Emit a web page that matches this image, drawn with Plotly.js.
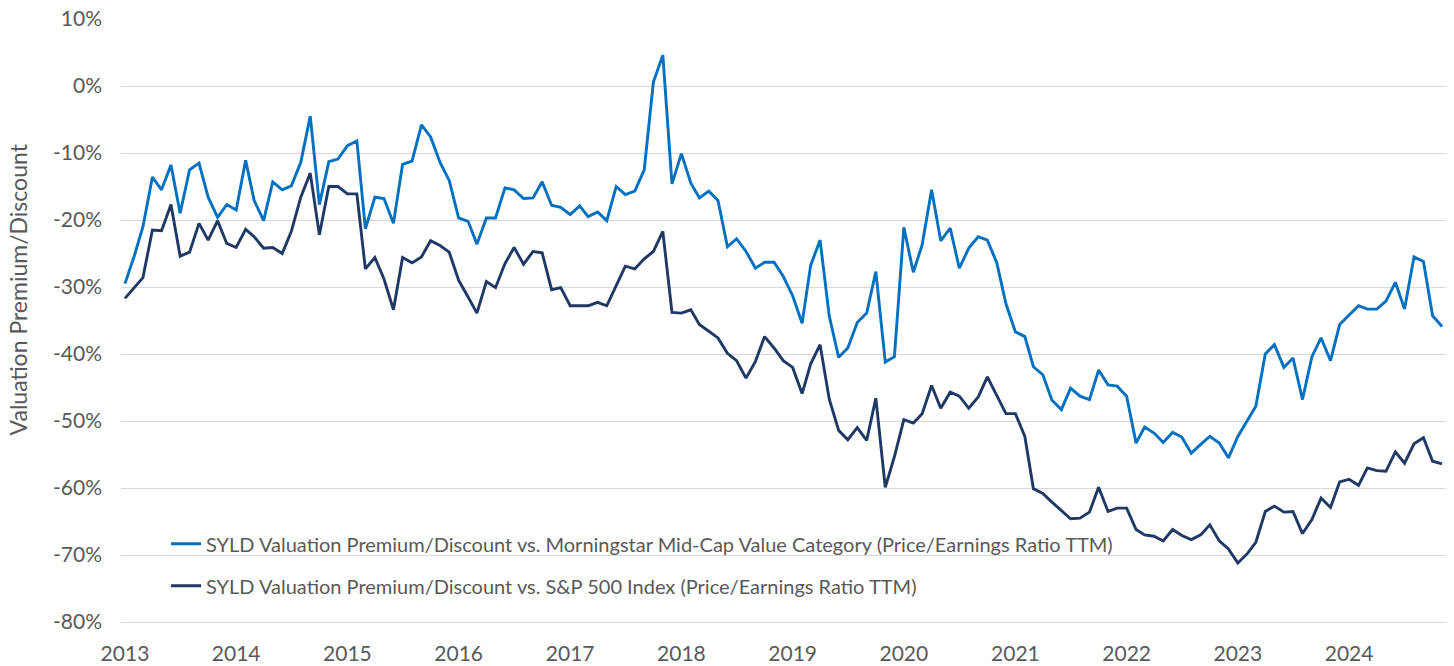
<!DOCTYPE html>
<html>
<head>
<meta charset="utf-8">
<script src="https://cdn.plot.ly/plotly-3.0.1.min.js"></script>
<style>
  html, body { margin: 0; padding: 0; background: #fff; }
  #chart { width: 1454px; height: 666px; }
</style>
</head>
<body>
<div id="chart"></div>
<script>
const months = [
  '2013-01','2013-02','2013-03','2013-04','2013-05','2013-06','2013-07','2013-08','2013-09','2013-10','2013-11','2013-12',
  '2014-01','2014-02','2014-03','2014-04','2014-05','2014-06','2014-07','2014-08','2014-09','2014-10','2014-11','2014-12',
  '2015-01','2015-02','2015-03','2015-04','2015-05','2015-06','2015-07','2015-08','2015-09','2015-10','2015-11','2015-12',
  '2016-01','2016-02','2016-03','2016-04','2016-05','2016-06','2016-07','2016-08','2016-09','2016-10','2016-11','2016-12',
  '2017-01','2017-02','2017-03','2017-04','2017-05','2017-06','2017-07','2017-08','2017-09','2017-10','2017-11','2017-12',
  '2018-01','2018-02','2018-03','2018-04','2018-05','2018-06','2018-07','2018-08','2018-09','2018-10','2018-11','2018-12',
  '2019-01','2019-02','2019-03','2019-04','2019-05','2019-06','2019-07','2019-08','2019-09','2019-10','2019-11','2019-12',
  '2020-01','2020-02','2020-03','2020-04','2020-05','2020-06','2020-07','2020-08','2020-09','2020-10','2020-11','2020-12',
  '2021-01','2021-02','2021-03','2021-04','2021-05','2021-06','2021-07','2021-08','2021-09','2021-10','2021-11','2021-12',
  '2022-01','2022-02','2022-03','2022-04','2022-05','2022-06','2022-07','2022-08','2022-09','2022-10','2022-11','2022-12',
  '2023-01','2023-02','2023-03','2023-04','2023-05','2023-06','2023-07','2023-08','2023-09','2023-10','2023-11','2023-12',
  '2024-01','2024-02','2024-03','2024-04','2024-05','2024-06','2024-07','2024-08','2024-09','2024-10','2024-11'
];

// SYLD valuation premium/discount vs. Morningstar Mid-Cap Value Category (P/E TTM), %
const vsMidCapValue = [
  -29.5,-25.3,-21.0,-13.6,-15.5,-11.8,-19.0,-12.5,-11.5,-16.6,-19.6,-17.7,
  -18.5,-11.1,-17.1,-20.1,-14.3,-15.5,-14.9,-11.4,-4.5,-17.7,-11.3,-10.9,
  -8.9,-8.2,-21.3,-16.6,-16.8,-20.5,-11.7,-11.2,-5.8,-7.6,-11.4,-14.1,
  -19.7,-20.2,-23.6,-19.7,-19.7,-15.2,-15.5,-16.8,-16.7,-14.3,-17.8,-18.1,
  -19.2,-17.9,-19.5,-18.8,-20.1,-15.0,-16.2,-15.7,-12.5,0.6,4.6,-14.6,
  -10.1,-14.5,-16.7,-15.7,-17.1,-24.0,-22.8,-24.7,-27.2,-26.3,-26.3,-28.4,
  -31.3,-35.4,-26.8,-23.0,-34.3,-40.5,-39.1,-35.3,-33.9,-27.7,-41.2,-40.4,
  -21.1,-27.8,-23.7,-15.5,-23.1,-21.2,-27.2,-24.2,-22.5,-23.0,-26.4,-32.5,
  -36.7,-37.4,-41.9,-43.1,-46.9,-48.3,-45.1,-46.3,-46.8,-42.4,-44.6,-44.8,
  -46.3,-53.3,-50.9,-51.8,-53.2,-51.7,-52.4,-54.8,-53.5,-52.3,-53.3,-55.5,
  -52.3,-49.9,-47.8,-40.0,-38.6,-42.0,-40.6,-46.8,-40.4,-37.6,-41.0,-35.6,
  -34.2,-32.8,-33.3,-33.3,-32.1,-29.3,-33.3,-25.5,-26.2,-34.3,-35.9
];

// SYLD valuation premium/discount vs. S&P 500 Index (P/E TTM), %
const vsSP500 = [
  -31.7,-30.1,-28.6,-21.5,-21.6,-17.7,-25.4,-24.8,-20.5,-23.0,-20.1,-23.5,
  -24.1,-21.4,-22.5,-24.2,-24.1,-25.0,-21.7,-16.6,-13.0,-22.2,-15.0,-15.0,
  -16.1,-16.1,-27.3,-25.6,-28.8,-33.4,-25.6,-26.4,-25.5,-23.1,-23.8,-24.8,
  -29.0,-31.5,-33.9,-29.2,-30.1,-26.5,-24.1,-26.6,-24.7,-24.9,-30.4,-30.1,
  -32.8,-32.8,-32.8,-32.3,-32.8,-29.8,-26.9,-27.3,-25.8,-24.7,-21.7,-33.8,
  -33.9,-33.4,-35.6,-36.6,-37.6,-39.9,-41.0,-43.6,-41.1,-37.4,-39.1,-41.0,
  -42.0,-45.9,-41.5,-38.6,-46.7,-51.4,-52.8,-51.0,-52.9,-46.6,-59.9,-55.3,
  -49.8,-50.3,-48.9,-44.7,-48.1,-45.7,-46.3,-48.1,-46.4,-43.4,-46.2,-48.9,
  -48.9,-52.3,-60.1,-60.8,-62.1,-63.4,-64.6,-64.5,-63.6,-59.9,-63.5,-63.0,
  -63.0,-66.2,-67.0,-67.2,-67.9,-66.2,-67.1,-67.7,-67.0,-65.5,-67.9,-69.1,
  -71.2,-69.8,-68.1,-63.5,-62.7,-63.6,-63.5,-66.8,-64.7,-61.5,-62.9,-59.1,
  -58.7,-59.6,-57.0,-57.4,-57.5,-54.6,-56.3,-53.4,-52.5,-56.0,-56.4
];

const seriesNames = [
  'SYLD Valuation Premium/Discount vs. Morningstar Mid-Cap Value Category (Price/Earnings Ratio TTM)',
  'SYLD Valuation Premium/Discount vs. S&P 500 Index (Price/Earnings Ratio TTM)'
];

const yearTickVals = ['2013-01-01','2014-01-01','2015-01-01','2016-01-01','2017-01-01','2018-01-01',
                      '2019-01-01','2020-01-01','2021-01-01','2022-01-01','2023-01-01','2024-01-01'];
const yearTickText = ['2013','2014','2015','2016','2017','2018','2019','2020','2021','2022','2023','2024'];

const pctTickVals = [10, 0, -10, -20, -30, -40, -50, -60, -70, -80];
const pctTickText = ['10%','0%','-10%','-20%','-30%','-40%','-50%','-60%','-70%','-80%'];

const yTitle = 'Valuation Premium/Discount';

const FONT = 'Lato, "Open Sans", "Liberation Sans", sans-serif';
const TXT = '#595959';

const traces = [
  {
    x: months, y: vsMidCapValue, name: seriesNames[0], type: 'scatter', mode: 'lines',
    line: { color: '#0070C0', width: 2.9 }, legendgroup: 'a', hoverinfo: 'skip'
  },
  {
    x: months, y: vsSP500, name: seriesNames[1], type: 'scatter', mode: 'lines',
    line: { color: '#1F3864', width: 2.9 }, legendgroup: 'b', hoverinfo: 'skip'
  }
];

const layout = {
  width: 1454, height: 666,
  margin: { l: 121, r: 8, t: 19, b: 44 },
  paper_bgcolor: '#ffffff', plot_bgcolor: '#ffffff',
  font: { family: FONT, color: TXT, size: 20 },
  showlegend: true,
  legend: {
    x: 0.034, y: 0.095, xanchor: 'left', yanchor: 'middle',
    bgcolor: 'rgba(0,0,0,0)', borderwidth: 0,
    font: { family: FONT, size: 20, color: TXT },
    traceorder: 'grouped', tracegroupgap: 13
  },
  xaxis: {
    type: 'date',
    range: ['2012-12-19', '2024-11-14'],
    tickmode: 'array', tickvals: yearTickVals, ticktext: yearTickText,
    showgrid: false, zeroline: false,
    showline: true, linecolor: '#D9D9D9', linewidth: 1,
    ticks: '', tickfont: { family: FONT, size: 21, color: TXT },
    ticklabelstandoff: 13
  },
  yaxis: {
    range: [-80, 10],
    tickmode: 'array', tickvals: pctTickVals, ticktext: pctTickText,
    showgrid: true, gridcolor: '#D9D9D9', gridwidth: 1,
    zeroline: false, showline: false, ticks: '',
    tickfont: { family: FONT, size: 21, color: TXT },
    ticklabelstandoff: 18
  },
  annotations: [
    {
      text: yTitle, xref: 'paper', yref: 'paper',
      x: -0.078, y: 0.551, xanchor: 'center', yanchor: 'middle',
      textangle: -90, showarrow: false,
      font: { family: FONT, size: 23, color: TXT }
    }
  ]
};

Plotly.newPlot('chart', traces, layout, { displayModeBar: false, staticPlot: true });
</script>
</body>
</html>
